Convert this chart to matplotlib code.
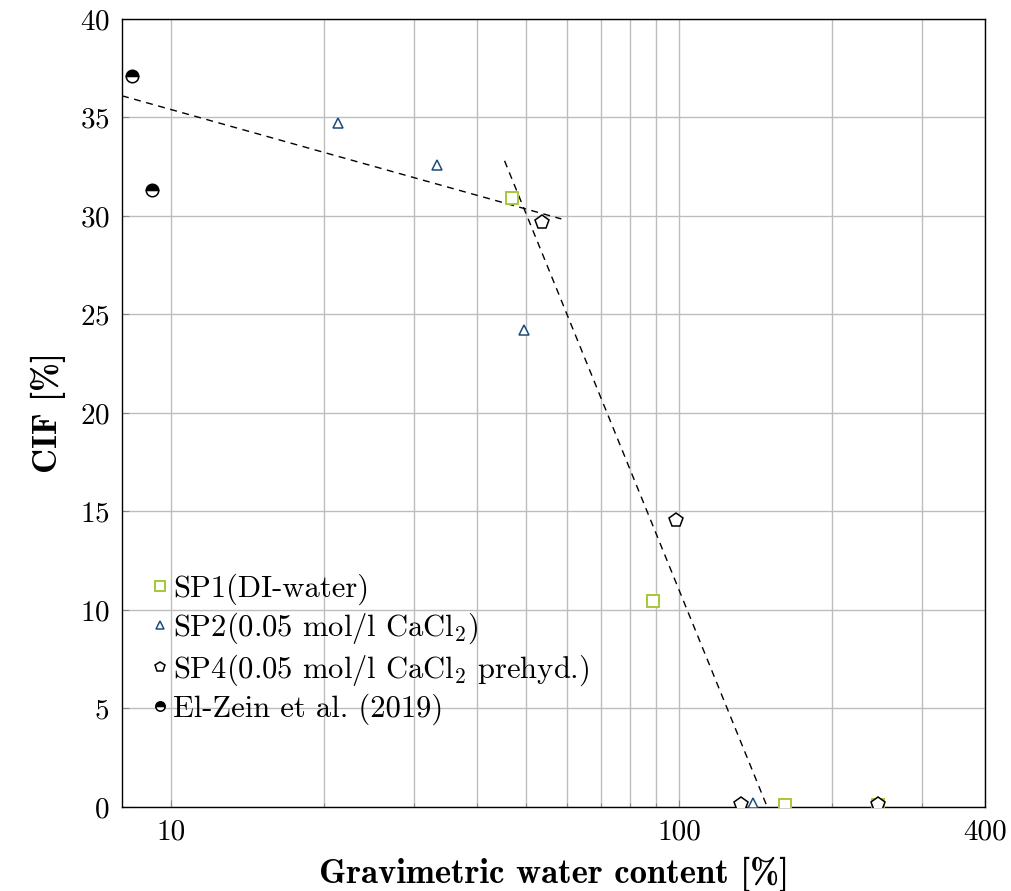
import matplotlib
matplotlib.use("Agg")
import matplotlib.pyplot as plt
from matplotlib.ticker import FixedLocator, NullFormatter
import numpy as np

# serif look similar to LaTeX/pgfplots output
plt.rcParams['font.family'] = 'cmr10'
plt.rcParams['mathtext.fontset'] = 'cm'
plt.rcParams['axes.formatter.use_mathtext'] = True

# SP1 (DI-water)
sp1_w = [46.8, 88.9, 161.5, 246]
sp1_cif = [30.9, 10.45, 0.1, 0.1]
# SP2 (0.05 mol/l CaCl2)
sp2_w = [21.3, 33.3, 49.4, 139.8]
sp2_cif = [34.7, 32.6, 24.2, 0.2]
# SP4 (0.05 mol/l CaCl2 prehyd.)
sp4_w = [53.6, 98.7, 132.5, 246]
sp4_cif = [29.7, 14.55, 0.15, 0.15]
# El-Zein et al. (2019)
elz_w = [8.38, 9.18]
elz_cif = [37.1, 31.3]

# dashed trend lines (end points)
trend1_w = [8.0, 58.6]
trend1_cif = [36.1, 29.85]
trend2_w = [45.3, 149]
trend2_cif = [32.8, 0.0]

labels = ['SP1(DI-water)',
          r'SP2(0.05 mol/l CaCl$_2$)',
          r'SP4(0.05 mol/l CaCl$_2$ prehyd.)',
          'El-Zein et al. (2019)']

fig = plt.figure(figsize=(10.11, 8.91), dpi=100)
ax = fig.add_axes([0.1207, 0.0943, 0.8537, 0.8844])

ax.plot(trend1_w, trend1_cif, '--', color='black', lw=1.0, dashes=(5, 4))
ax.plot(trend2_w, trend2_cif, '--', color='black', lw=1.0, dashes=(5, 4))

ax.plot(sp1_w, sp1_cif, 's', ls='none', ms=9, mfc='white', mec='#a5c83a', mew=1.4,
        label=labels[0], zorder=4)
ax.plot(sp2_w, sp2_cif, '^', ls='none', ms=7, mfc='white', mec='#1d4c7a', mew=1.1,
        label=labels[1], zorder=4)
ax.plot(sp4_w, sp4_cif, 'p', ls='none', ms=10, mfc='white', mec='black', mew=1.1,
        label=labels[2], zorder=5)
ax.plot(elz_w, elz_cif, 'o', ls='none', ms=9, fillstyle='top', mfc='black',
        mfcalt='white', mec='black', mew=1.1, label=labels[3], zorder=4)

ax.set_xscale('log')
ax.set_xlim(8.0, 400)
ax.set_ylim(0, 40)

ax.xaxis.set_major_locator(FixedLocator([10, 100, 400]))
ax.xaxis.set_minor_locator(FixedLocator([20, 30, 40, 50, 60, 70, 80, 90, 200, 300]))
ax.xaxis.set_minor_formatter(NullFormatter())
ax.set_xticklabels(['10', '100', '400'])
ax.set_yticks(np.arange(0, 41, 5))

ax.grid(True, which='major', color='#bdbdbd', lw=1.0)
ax.grid(True, which='minor', axis='x', color='#bdbdbd', lw=1.0)
ax.set_axisbelow(True)

ax.tick_params(which='both', direction='in', labelsize=21, length=5, width=0.8,
               color='#888888', pad=9)
ax.tick_params(which='minor', length=3)
for s in ax.spines.values():
    s.set_linewidth(1.0)
    s.set_color('black')

ax.set_xlabel('Gravimetric water content [%]', fontsize=25, family='cmb10', labelpad=8)
ax.set_ylabel('CIF [%]', fontsize=25, family='cmb10', labelpad=10)

leg = ax.legend(loc='lower left', bbox_to_anchor=(0.02, 0.088), frameon=False,
                fontsize=22, markerscale=0.75, handlelength=0.55, handletextpad=0.15,
                labelspacing=0.2, borderaxespad=0)

fig.savefig('out.png', dpi=100)
